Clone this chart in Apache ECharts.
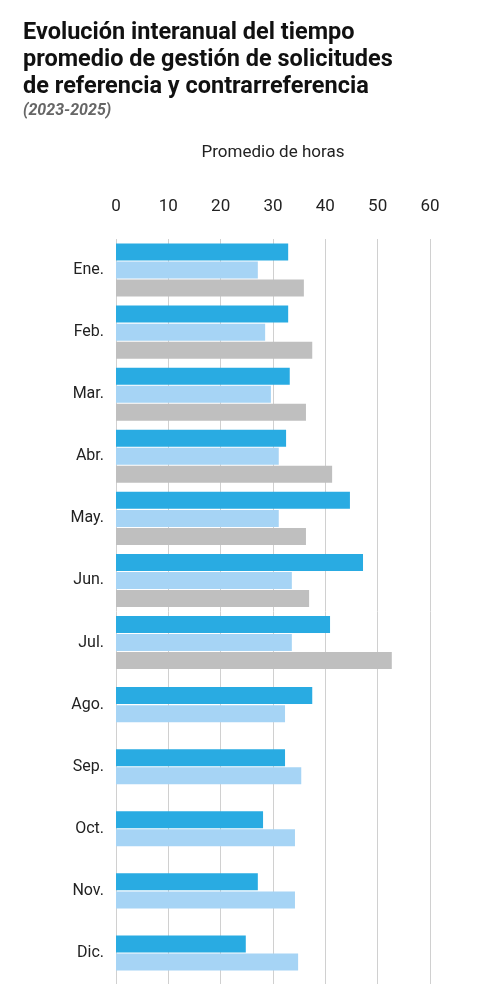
<!DOCTYPE html>
<html><head><meta charset="utf-8">
<script src="https://cdn.jsdelivr.net/npm/echarts@6/dist/echarts.min.js"></script>
<style>body{margin:0;background:#fff}#c{width:500px;height:1002px}</style>
</head><body><div id="c"></div>
<script>
const categories=['Ene.','Feb.','Mar.','Abr.','May.','Jun.','Jul.','Ago.','Sep.','Oct.','Nov.','Dic.'];
const s2025=[32.9,32.9,33.2,32.5,44.7,47.2,40.9,null,null,null,null,null];
const s2024=[27.1,28.5,29.6,31.1,31.1,33.6,33.6,null,null,null,null,null];
const s2023=[35.9,37.5,36.3,41.3,36.3,36.9,52.7,null,null,null,null,null];
const s2025b=[null,null,null,null,null,null,null,37.5,32.3,28.1,27.1,24.8];
const s2024b=[null,null,null,null,null,null,null,32.3,35.4,34.2,34.2,34.8];
const xTicks=[0,10,20,30,40,50,60];
const C1='#29abe2',C2='#a6d4f5',C3='#bfbfbf';
const chart=echarts.init(document.getElementById('c'));
const bar=(name,data,color,yi)=>({type:'bar',name,data,yAxisIndex:yi,barWidth:17,barGap:'6%',itemStyle:{color},silent:true});
chart.setOption({
 animation:false,
 title:[{text:'Evolución interanual del tiempo\npromedio de gestión de solicitudes\nde referencia y contrarreferencia',left:18,top:15,
   textStyle:{fontFamily:'Roboto',fontWeight:'bold',fontSize:23.5,lineHeight:27,color:'#111'}},
  {text:'(2023-2025)',left:18,top:98,textStyle:{fontFamily:'Roboto',fontStyle:'italic',fontWeight:'bold',fontSize:16,color:'#666'}}],
 grid:{left:116,right:70,top:239,bottom:18},
 xAxis:{type:'value',position:'top',min:0,max:60,interval:10,name:'Promedio de horas',nameLocation:'middle',nameGap:78,
   nameTextStyle:{fontFamily:'Roboto',fontSize:17,color:'#222'},
   axisLabel:{fontFamily:'Roboto',fontSize:17,color:'#222',margin:24,formatter:v=>xTicks.includes(v)?String(v):''},
   axisLine:{show:false},axisTick:{show:false},splitLine:{lineStyle:{color:'#d0d0d0',width:1}}},
 yAxis:[{type:'category',data:categories,inverse:true,axisLine:{show:false},axisTick:{show:false},
   axisLabel:{fontFamily:'Roboto',fontSize:16,color:'#222',margin:12}},
  {type:'category',data:categories,inverse:true,show:false}],
 series:[bar('2025',s2025,C1,0),bar('2024',s2024,C2,0),bar('2023',s2023,C3,0),bar('2025b',s2025b,C1,1),bar('2024b',s2024b,C2,1)]
});
</script></body></html>
